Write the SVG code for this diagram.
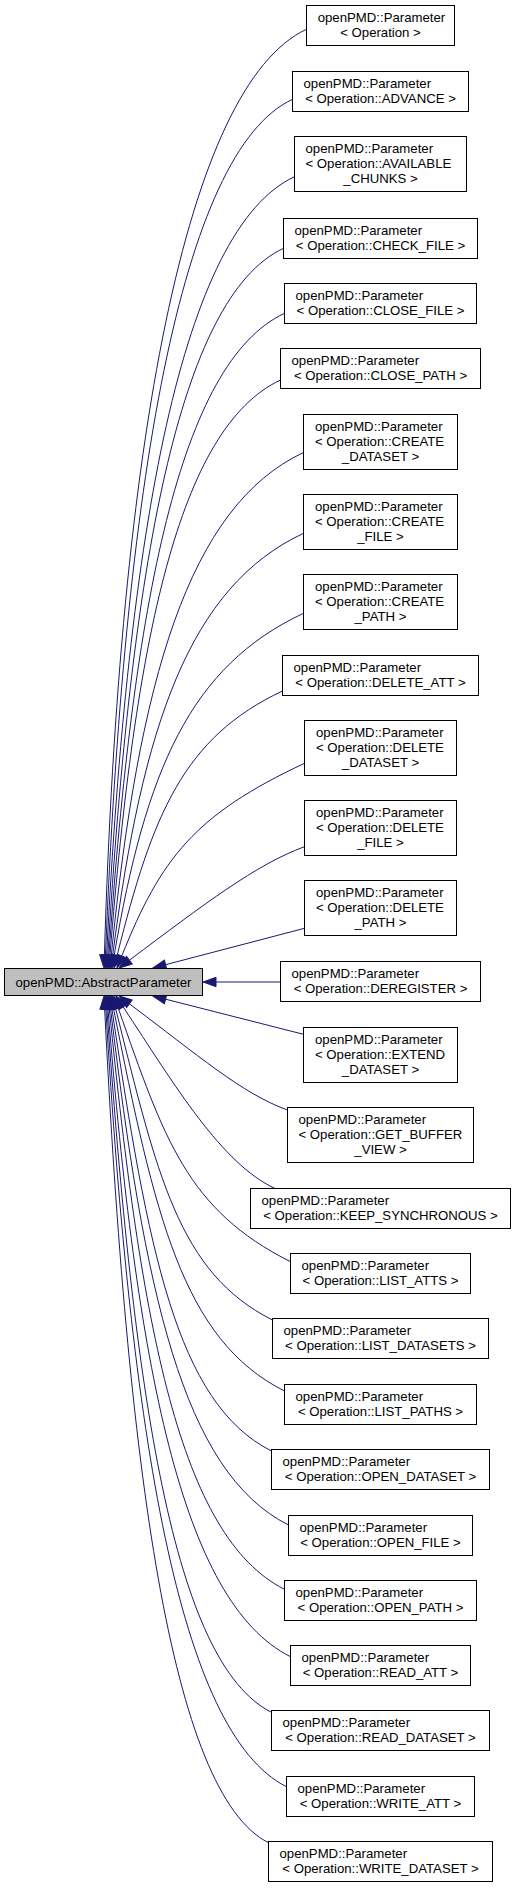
<svg xmlns="http://www.w3.org/2000/svg" width="516" height="1888" viewBox="0 0 516 1888">
<defs>
<style>
.n rect{fill:#fff;stroke:#000;stroke-width:1}
.root rect{fill:#bfbfbf}
text{font-family:"Liberation Sans",Arial,Helvetica,sans-serif;font-size:13.2px;fill:#000}
.c{text-anchor:middle}
#edges path{fill:none;stroke:#191970;stroke-width:1;marker-end:url(#ah)}
</style>
<marker id="ah" viewBox="-1 -1 15 11.4" markerWidth="15" markerHeight="11.4" refX="0" refY="4.7" orient="auto" markerUnits="userSpaceOnUse">
<path d="M0,0 L13,4.7 L0,9.4 z" fill="#191970" stroke="#191970" stroke-width="1"/>
</marker>
</defs>
<rect x="0" y="0" width="516" height="1888" fill="#fff"/>
<g id="edges">
<path d="M306.5,29.3 C185.2,85.9 119.7,446.1 104.4,955"/>
<path d="M292.5,99.3 C180.3,151.7 124.3,484.8 105.5,955"/>
<path d="M294.5,176.7 C182,229.4 128,527.4 106.65,955"/>
<path d="M283.5,248.3 C178.3,297.6 131.1,567 107.8,955"/>
<path d="M284.5,313.3 C179.3,362.6 133.5,602.9 108.9,955"/>
<path d="M280.5,380 C178.4,427.9 135.2,639.7 110,955"/>
<path d="M303.5,452.5 C188.4,506.5 138.8,680.1 111.3,955.1"/>
<path d="M303.5,533.3 C189.2,586.9 142.6,725 112.7,955.1"/>
<path d="M303.5,613.3 C190.1,666.4 145.7,769.8 114.2,955.2"/>
<path d="M282.5,691 C183.5,737.4 152.4,814.3 117.15,955.4"/>
<path d="M304.5,763.3 C195.1,814.6 161.1,857.6 121.8,955.9"/>
<path d="M304.5,846.7 C256.1,864.4 204.6,903.8 129.4,960.2"/>
<path d="M304.5,928.3 L165.6,964.7"/>
<path d="M280.5,982 L216,982"/>
<path d="M303.5,1034.3 L165.6,999.2"/>
<path d="M287.5,1110 C242.4,1093.9 197.8,1055.1 129.4,1003.8"/>
<path d="M275,1188.5 C221.4,1163.5 175.2,1085.9 123.15,1006.86"/>
<path d="M290.5,1261.7 C187.4,1209.9 164.3,1139.9 118.3,1008.3"/>
<path d="M272.5,1320 C178.4,1272.9 157.2,1174.8 115.65,1008.6"/>
<path d="M284.5,1391 C182.1,1339.6 154.8,1214.9 113.55,1008.75"/>
<path d="M271.5,1451 C176,1403 148,1249.4 111.9,1008.9"/>
<path d="M288.5,1525 C181.9,1471.5 144.4,1290.7 110.55,1008.9"/>
<path d="M284.5,1589.3 C179.6,1536.6 141.1,1326.5 109.3,1008.9"/>
<path d="M290.5,1656.7 C181,1602 136.4,1364.2 108,1009"/>
<path d="M271.5,1712.3 C172.9,1662.8 133.9,1394.9 106.9,1009"/>
<path d="M286.5,1786.7 C178.3,1732.3 131.4,1435.9 105.8,1009"/>
<path d="M268.5,1842.7 C170.4,1793.4 127.6,1466.9 104.65,1009"/>
</g>
<g id="abstract-parameter" class="n root"><rect x="4.5" y="968.5" width="198" height="27"/><text class="c" x="103.5" y="986.5">openPMD::AbstractParameter</text></g>
<g id="p-operation" class="n"><rect x="306.5" y="5.5" width="148" height="40"/><text x="317.7" y="22.2">openPMD::Parameter</text><text class="c" x="380.5" y="37.2">&lt; Operation &gt;</text></g>
<g id="p-advance" class="n"><rect x="292.5" y="71.5" width="176" height="40"/><text x="303.5" y="88.2">openPMD::Parameter</text><text class="c" x="380.5" y="103.2">&lt; Operation::ADVANCE &gt;</text></g>
<g id="p-available-chunks" class="n"><rect x="294.5" y="136.5" width="172" height="55"/><text x="305.5" y="153.2">openPMD::Parameter</text><text x="305.5" y="168.2">&lt; Operation::AVAILABLE</text><text class="c" x="380.5" y="183.2">_CHUNKS &gt;</text></g>
<g id="p-check-file" class="n"><rect x="283.5" y="218.5" width="194" height="40"/><text x="294.5" y="235.2">openPMD::Parameter</text><text class="c" x="380.5" y="250.2">&lt; Operation::CHECK_FILE &gt;</text></g>
<g id="p-close-file" class="n"><rect x="284.5" y="283.5" width="192" height="40"/><text x="295.5" y="300.2">openPMD::Parameter</text><text class="c" x="380.5" y="315.2">&lt; Operation::CLOSE_FILE &gt;</text></g>
<g id="p-close-path" class="n"><rect x="280.5" y="348.5" width="200" height="40"/><text x="291.5" y="365.2">openPMD::Parameter</text><text class="c" x="380.5" y="380.2">&lt; Operation::CLOSE_PATH &gt;</text></g>
<g id="p-create-dataset" class="n"><rect x="303.5" y="414.5" width="154" height="55"/><text x="315" y="431.2">openPMD::Parameter</text><text x="315" y="446.2">&lt; Operation::CREATE</text><text class="c" x="380.5" y="461.2">_DATASET &gt;</text></g>
<g id="p-create-file" class="n"><rect x="303.5" y="494.5" width="154" height="55"/><text x="315" y="511.2">openPMD::Parameter</text><text x="315" y="526.2">&lt; Operation::CREATE</text><text class="c" x="380.5" y="541.2">_FILE &gt;</text></g>
<g id="p-create-path" class="n"><rect x="303.5" y="574.5" width="154" height="55"/><text x="315" y="591.2">openPMD::Parameter</text><text x="315" y="606.2">&lt; Operation::CREATE</text><text class="c" x="380.5" y="621.2">_PATH &gt;</text></g>
<g id="p-delete-att" class="n"><rect x="282.5" y="655.5" width="196" height="40"/><text x="293.5" y="672.2">openPMD::Parameter</text><text class="c" x="380.5" y="687.2">&lt; Operation::DELETE_ATT &gt;</text></g>
<g id="p-delete-dataset" class="n"><rect x="304.5" y="720.5" width="152" height="55"/><text x="316" y="737.2">openPMD::Parameter</text><text x="316" y="752.2">&lt; Operation::DELETE</text><text class="c" x="380.5" y="767.2">_DATASET &gt;</text></g>
<g id="p-delete-file" class="n"><rect x="304.5" y="800.5" width="152" height="55"/><text x="316" y="817.2">openPMD::Parameter</text><text x="316" y="832.2">&lt; Operation::DELETE</text><text class="c" x="380.5" y="847.2">_FILE &gt;</text></g>
<g id="p-delete-path" class="n"><rect x="304.5" y="880.5" width="152" height="55"/><text x="316" y="897.2">openPMD::Parameter</text><text x="316" y="912.2">&lt; Operation::DELETE</text><text class="c" x="380.5" y="927.2">_PATH &gt;</text></g>
<g id="p-deregister" class="n"><rect x="280.5" y="961.5" width="200" height="40"/><text x="291.5" y="978.2">openPMD::Parameter</text><text class="c" x="380.5" y="993.2">&lt; Operation::DEREGISTER &gt;</text></g>
<g id="p-extend-dataset" class="n"><rect x="303.5" y="1027.5" width="154" height="55"/><text x="315" y="1044.2">openPMD::Parameter</text><text x="315" y="1059.2">&lt; Operation::EXTEND</text><text class="c" x="380.5" y="1074.2">_DATASET &gt;</text></g>
<g id="p-get-buffer-view" class="n"><rect x="287.5" y="1107.5" width="186" height="55"/><text x="298.5" y="1124.2">openPMD::Parameter</text><text x="298.5" y="1139.2">&lt; Operation::GET_BUFFER</text><text class="c" x="380.5" y="1154.2">_VIEW &gt;</text></g>
<g id="p-keep-synchronous" class="n"><rect x="250.5" y="1188.5" width="260" height="40"/><text x="261.5" y="1205.2">openPMD::Parameter</text><text class="c" x="380.5" y="1220.2">&lt; Operation::KEEP_SYNCHRONOUS &gt;</text></g>
<g id="p-list-atts" class="n"><rect x="290.5" y="1253.5" width="180" height="40"/><text x="301.5" y="1270.2">openPMD::Parameter</text><text class="c" x="380.5" y="1285.2">&lt; Operation::LIST_ATTS &gt;</text></g>
<g id="p-list-datasets" class="n"><rect x="272.5" y="1318.5" width="216" height="40"/><text x="283.5" y="1335.2">openPMD::Parameter</text><text class="c" x="380.5" y="1350.2">&lt; Operation::LIST_DATASETS &gt;</text></g>
<g id="p-list-paths" class="n"><rect x="284.5" y="1384.5" width="192" height="40"/><text x="295.5" y="1401.2">openPMD::Parameter</text><text class="c" x="380.5" y="1416.2">&lt; Operation::LIST_PATHS &gt;</text></g>
<g id="p-open-dataset" class="n"><rect x="271.5" y="1449.5" width="218" height="40"/><text x="282.5" y="1466.2">openPMD::Parameter</text><text class="c" x="380.5" y="1481.2">&lt; Operation::OPEN_DATASET &gt;</text></g>
<g id="p-open-file" class="n"><rect x="288.5" y="1515.5" width="184" height="40"/><text x="299.5" y="1532.2">openPMD::Parameter</text><text class="c" x="380.5" y="1547.2">&lt; Operation::OPEN_FILE &gt;</text></g>
<g id="p-open-path" class="n"><rect x="284.5" y="1580.5" width="192" height="40"/><text x="295.5" y="1597.2">openPMD::Parameter</text><text class="c" x="380.5" y="1612.2">&lt; Operation::OPEN_PATH &gt;</text></g>
<g id="p-read-att" class="n"><rect x="290.5" y="1645.5" width="180" height="40"/><text x="301.5" y="1662.2">openPMD::Parameter</text><text class="c" x="380.5" y="1677.2">&lt; Operation::READ_ATT &gt;</text></g>
<g id="p-read-dataset" class="n"><rect x="271.5" y="1710.5" width="218" height="40"/><text x="282.5" y="1727.2">openPMD::Parameter</text><text class="c" x="380.5" y="1742.2">&lt; Operation::READ_DATASET &gt;</text></g>
<g id="p-write-att" class="n"><rect x="286.5" y="1776.5" width="188" height="40"/><text x="297.5" y="1793.2">openPMD::Parameter</text><text class="c" x="380.5" y="1808.2">&lt; Operation::WRITE_ATT &gt;</text></g>
<g id="p-write-dataset" class="n"><rect x="268.5" y="1841.5" width="224" height="40"/><text x="279.5" y="1858.2">openPMD::Parameter</text><text class="c" x="380.5" y="1873.2">&lt; Operation::WRITE_DATASET &gt;</text></g>
</svg>
